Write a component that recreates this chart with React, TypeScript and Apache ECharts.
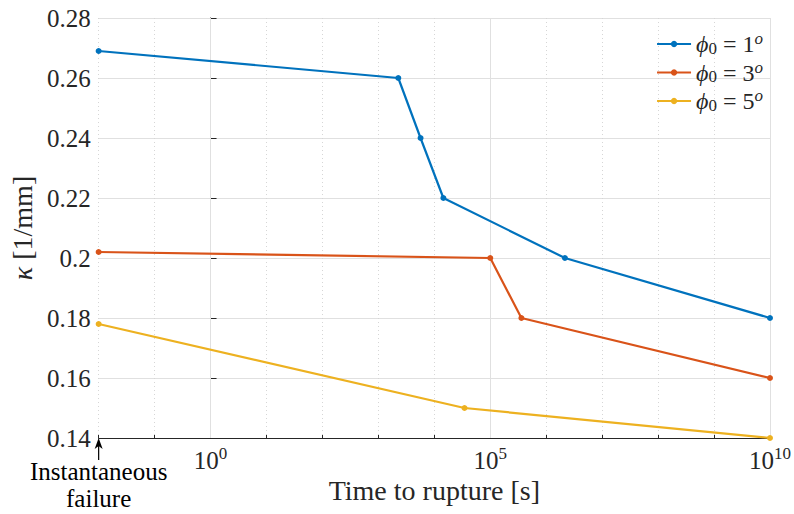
import React, { useEffect, useRef } from "react";
import * as echarts from "echarts";

const seriesNames = ["phi1", "phi3", "phi5"];
const legendDegrees = ["1", "3", "5"];
const colors = ["#0072BD", "#D95319", "#EDB120"];

const times1 = [0.01, 2270, 5670, 14500, 2.16e6, 1e10];
const kappa1 = [0.269, 0.26, 0.24, 0.22, 0.2, 0.18];
const times2 = [0.01, 1e5, 3.6e5, 1e10];
const kappa2 = [0.202, 0.2, 0.18, 0.16];
const times3 = [0.01, 3.46e4, 1e10];
const kappa3 = [0.178, 0.15, 0.14];

const annotationLines = ["Instantaneous", "failure"];

const xExpMin = -2;
const xExpMax = 10;
const majorExps = [0, 5, 10];
const yMin = 0.14;
const yMax = 0.28;
const yStep = 0.02;

const FONT = "'Liberation Serif', 'Times New Roman', serif";
const TXT = "#262626";

export default function App() {
  const ref = useRef<HTMLDivElement>(null);
  useEffect(() => {
    if (!ref.current) return;
    const chart = echarts.init(ref.current, null, { renderer: "svg" });
    const all = [
      [times1, kappa1],
      [times2, kappa2],
      [times3, kappa3],
    ];
    const series: any[] = all.map(([t, k], i) => ({
      name: seriesNames[i],
      type: "line",
      data: t.map((v, j) => [Math.log10(v), k[j]]),
      symbol: "circle",
      symbolSize: 6,
      lineStyle: { width: 2.2, color: colors[i] },
      itemStyle: { color: colors[i] },
      z: 5,
      clip: false,
    }));
    series.push({
      type: "line",
      data: [],
      z: 1,
      silent: true,
      markLine: {
        silent: true,
        symbol: "none",
        label: { show: false },
        lineStyle: { color: "#e0e0e0", width: 1, type: "solid" },
        data: majorExps.map((e) => ({ xAxis: e })),
      },
    });
    chart.setOption({
      animation: false,
      textStyle: { fontFamily: FONT, color: TXT },
      grid: { left: 98, right: 20, top: 18, bottom: 76, containLabel: false },
      legend: {
        data: seriesNames,
        orient: "vertical",
        right: 26,
        top: 25,
        itemGap: 2,
        itemWidth: 34,
        itemHeight: 8,
        formatter: (name: string) => {
          const d = legendDegrees[seriesNames.indexOf(name)];
          return `{i|ϕ}{sub|0}{t| = ${d}}{sup|o}`;
        },
        textStyle: {
          fontFamily: FONT,
          color: TXT,
          fontSize: 24,
          rich: {
            i: { fontSize: 24, fontStyle: "italic", fontFamily: FONT, color: TXT },
            sub: { fontSize: 17, fontFamily: FONT, color: TXT, padding: [8, 0, 0, 0] },
            t: { fontSize: 24, fontFamily: FONT, color: TXT },
            sup: { fontSize: 17, fontStyle: "italic", fontFamily: FONT, color: TXT, padding: [0, 0, 11, 0] },
          },
        },
      },
      xAxis: [
        {
          type: "value",
          min: xExpMin,
          max: xExpMax,
          interval: 1,
          position: "bottom",
          name: "Time to rupture [s]",
          nameLocation: "middle",
          nameGap: 38,
          nameTextStyle: { fontFamily: FONT, fontSize: 28, color: TXT },
          axisLine: { show: true, lineStyle: { color: TXT, width: 1 } },
          axisTick: { show: true, inside: true, length: 3, lineStyle: { color: TXT } },
          axisLabel: { show: false },
          splitLine: { show: true, lineStyle: { color: "#d6d6d6", type: [1, 3], width: 1 } },
        },
        {
          type: "value",
          min: xExpMin,
          max: xExpMax,
          position: "bottom",
          axisLine: { show: false },
          axisTick: { show: true, inside: true, length: 7, customValues: majorExps, lineStyle: { color: TXT } },
          axisLabel: {
            show: true,
            customValues: majorExps,
            margin: 7,
            formatter: (v: number) => `{b|10}{s|${v}}`,
            rich: {
              b: { fontSize: 25, fontFamily: FONT, color: TXT },
              s: { fontSize: 17, fontFamily: FONT, color: TXT, padding: [0, 0, 14, 0] },
            },
          },
          splitLine: { show: false },
        },
      ],
      yAxis: {
        type: "value",
        min: yMin,
        max: yMax,
        interval: yStep,
        name: "{i|κ} [1/mm]",
        nameLocation: "middle",
        nameGap: 54,
        nameRotate: 90,
        nameTextStyle: {
          fontFamily: FONT,
          fontSize: 28,
          color: TXT,
          rich: {
            i: { fontSize: 28, fontStyle: "italic", fontFamily: FONT, color: TXT },
          },
        },
        axisLine: { show: true, lineStyle: { color: TXT, width: 1 } },
        axisTick: { show: true, inside: true, length: 6, lineStyle: { color: TXT } },
        axisLabel: { fontFamily: FONT, fontSize: 25, color: TXT, margin: 8 },
        splitLine: { show: true, lineStyle: { color: "#e0e0e0", width: 1 } },
      },
      series,
    });
    const p = chart.convertToPixel({ xAxisIndex: 0, yAxisIndex: 0 }, [xExpMin, yMin]) as number[];
    const ax = p[0];
    const ay = p[1];
    chart.setOption({
      graphic: [
        {
          type: "line",
          shape: { x1: ax, y1: ay + 8, x2: ax, y2: ay + 22 },
          style: { stroke: "#000", lineWidth: 1.2 },
          z: 10,
        },
        {
          type: "polygon",
          shape: { points: [[ax, ay], [ax - 4, ay + 11], [ax, ay + 8], [ax + 4, ay + 11]] },
          style: { fill: "#000" },
          z: 10,
        },
        ...annotationLines.map((s, i) => ({
          type: "text",
          x: ax,
          y: ay + 21 + i * 27,
          style: {
            text: s,
            font: `25px ${FONT}`,
            fill: "#000",
            align: "center",
            verticalAlign: "top",
          },
          z: 10,
        })),
      ],
    });
    return () => chart.dispose();
  }, []);
  return <div ref={ref} style={{ width: 794, height: 514, position: "absolute", left: 0, top: 0 }} />;
}
